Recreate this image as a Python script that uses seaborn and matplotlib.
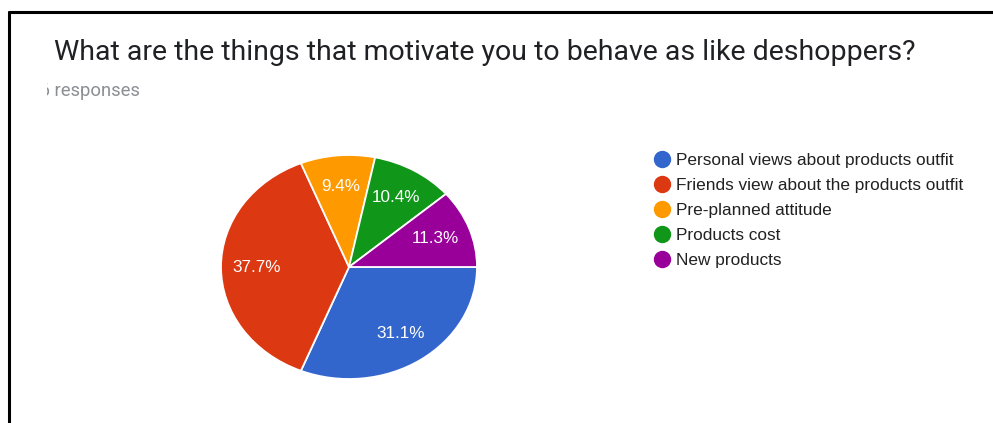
import matplotlib
matplotlib.use("Agg")
import matplotlib.pyplot as plt
from matplotlib.lines import Line2D
from matplotlib.transforms import Bbox
import seaborn as sns

# Survey answers (share of 106 responses, in %)
categories = [
    "Personal views about products outfit",
    "Friends view about the products outfit",
    "Pre-planned attitude",
    "Products cost",
    "New products",
]
shares = [31.1, 37.7, 9.4, 10.4, 11.3]
title = "What are the things that motivate you to behave as like deshoppers?"
subtitle = "106 responses"

sns.set_theme(style="white")
plt.rcParams["font.family"] = ["Liberation Sans", "DejaVu Sans"]
colors = sns.color_palette(["#3366CC", "#DC3912", "#FF9900", "#109618", "#990099"])

W, H = 993, 423
fig = plt.figure(figsize=(W / 100, H / 100), dpi=100)
fig.patch.set_facecolor("white")

# pie axes: stretched ellipse, centre (349, 267) px, radii 128 x 112 px
cx, cy, rx, ry = 349, 267, 128, 112
lim = 1.1
ax = fig.add_axes([(cx - rx * lim) / W, (H - cy - ry * lim) / H,
                   2 * rx * lim / W, 2 * ry * lim / H])
wedges, texts = ax.pie(
    shares,
    colors=colors,
    startangle=0,
    counterclock=False,
    labels=[f"{v}%" for v in shares],
    labeldistance=0.72,
    wedgeprops=dict(edgecolor="white", linewidth=1.3),
    textprops=dict(color="white", fontsize=12.3, ha="center", va="center",
                   family=["Liberation Sans"]),
)
ax.set_aspect("auto")
ax.set_xlim(-lim, lim)
ax.set_ylim(-lim, lim)
ax.axis("off")

# title and response count
fig.text(54 / W, 1 - 53 / H, title, fontsize=20.5, color="#202124",
         family=["Roboto", "DejaVu Sans"], va="center", ha="left")
sub = fig.text(140 / W, 1 - 91 / H, subtitle, fontsize=13.2, color="#8a8f94",
               family=["Roboto", "DejaVu Sans"], va="center", ha="right")
sub.set_clip_box(Bbox.from_extents(47, 0, W, H))
sub.set_clip_on(True)

# legend
handles = [Line2D([], [], marker="o", linestyle="none", markersize=11.5,
                  markerfacecolor=c, markeredgecolor=c) for c in colors]
fig.legend(handles, categories, loc="upper left",
           bbox_to_anchor=(653 / W, 1 - 153 / H), frameon=False,
           prop=dict(family="Liberation Sans", size=12.4),
           labelspacing=0.58, handletextpad=0.35,
           handlelength=1.0, borderaxespad=0, borderpad=0,
           labelcolor="#212121")

# frame lines along the top and left edges
fig.add_artist(Line2D([9 / W, 1], [1 - 12 / H, 1 - 12 / H], color="black",
                      linewidth=2.2, transform=fig.transFigure))
fig.add_artist(Line2D([9 / W, 9 / W], [0, 1 - 12 / H], color="black",
                      linewidth=2.2, transform=fig.transFigure))

fig.savefig("out.png", dpi=100)
